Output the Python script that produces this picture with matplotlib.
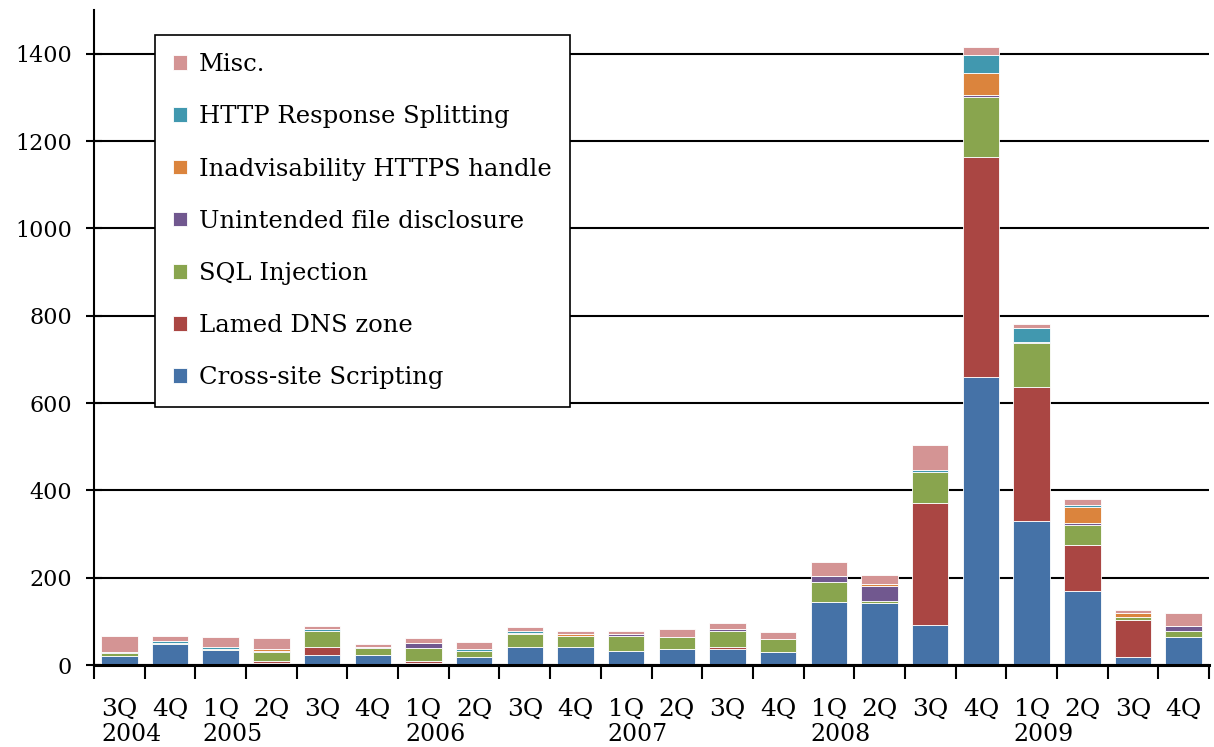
import numpy as np
import matplotlib
matplotlib.use('Agg')
import matplotlib.pyplot as plt
from matplotlib.ticker import FixedLocator

plt.rcParams['font.family'] = ['DejaVu Serif']

# 분기 라벨
quarters = ['3Q', '4Q', '1Q', '2Q', '3Q', '4Q', '1Q', '2Q', '3Q', '4Q', '1Q',
            '2Q', '3Q', '4Q', '1Q', '2Q', '3Q', '4Q', '1Q', '2Q', '3Q', '4Q']
years = ['2004', '', '2005', '', '', '', '2006', '', '', '', '2007',
         '', '', '', '2008', '', '', '', '2009', '', '', '']

# 항목별 건수
xss = [20, 47, 34, 5, 24, 24, 5, 19, 42, 42, 33, 37, 37, 29, 145, 141, 91, 660, 329, 169, 19, 64]
dns = [0, 0, 0, 5, 18, 0, 5, 0, 0, 0, 0, 0, 4, 0, 0, 0, 279, 503, 307, 106, 85, 0]
sql = [7, 4, 2, 19, 37, 14, 28, 14, 28, 24, 33, 27, 38, 31, 46, 5, 73, 138, 102, 46, 5, 14]
unintended = [3, 0, 0, 4, 0, 4, 13, 0, 0, 0, 4, 0, 4, 0, 12, 36, 0, 5, 2, 5, 0, 12]
https = [0, 0, 0, 4, 0, 0, 0, 0, 4, 4, 0, 0, 0, 0, 0, 4, 0, 50, 0, 35, 9, 0]
http_split = [0, 5, 5, 0, 4, 0, 0, 4, 5, 0, 0, 0, 0, 0, 0, 0, 4, 42, 31, 5, 0, 0]
misc = [36, 10, 24, 24, 6, 6, 10, 15, 9, 9, 9, 19, 14, 15, 34, 21, 56, 17, 9, 14, 9, 28]

names = ['Cross-site Scripting', 'Lamed DNS zone', 'SQL Injection',
         'Unintended file disclosure', 'Inadvisability HTTPS handle',
         'HTTP Response Splitting', 'Misc.']
series = [xss, dns, sql, unintended, https, http_split, misc]
colors = ['#4572A7', '#AA4643', '#89A54E', '#71588F', '#DB843D', '#4198AF', '#D49494']

fig = plt.figure(figsize=(12.14, 7.47), dpi=100)
ax = fig.add_axes([94 / 1214, 82 / 747, 1115 / 1214, 655 / 747])

x = np.arange(len(quarters))
bottom = np.zeros(len(quarters))
for vals, name, c in zip(series, names, colors):
    ax.bar(x, vals, width=0.72, bottom=bottom, color=c, edgecolor='white',
           linewidth=0.6, label=name, zorder=3)
    bottom += np.array(vals)

ax.set_xlim(-0.5, len(quarters) - 0.5)
ax.set_ylim(0, 1500)
ax.set_yticks(range(0, 1401, 200))
ax.yaxis.grid(True, color='black', linewidth=1.5, zorder=0)
ax.set_axisbelow(True)

# 분기는 눈금 라벨, 연도는 그 아래에 따로
ax.set_xticks(x)
ax.set_xticklabels(quarters, fontsize=18)
ax.tick_params(axis='x', which='major', length=0, pad=24)
ax.xaxis.set_minor_locator(FixedLocator(np.arange(-0.5, len(quarters), 1.0)))
ax.tick_params(axis='x', which='minor', length=10, width=1.5, direction='out')
for xi, yr in zip(x, years):
    if yr:
        ax.text(xi - 0.36, -0.106, yr, transform=ax.get_xaxis_transform(),
                ha='left', va='center', fontsize=17)

ax.tick_params(axis='y', direction='inout', length=12, width=1.5, labelsize=16, pad=10)

for s in ['top', 'right']:
    ax.spines[s].set_visible(False)
ax.spines['left'].set_linewidth(1.5)
ax.spines['bottom'].set_linewidth(2.2)
ax.spines['bottom'].set_zorder(4)

handles, labs = ax.get_legend_handles_labels()
leg = ax.legend(handles[::-1], labs[::-1], loc='upper left',
                bbox_to_anchor=(155 / 1214, 1 - 35 / 747), bbox_transform=fig.transFigure,
                fontsize=17.5, frameon=True, fancybox=False, edgecolor='black', framealpha=1,
                handlelength=0.55, handleheight=0.55, handletextpad=0.5,
                labelspacing=1.2, borderpad=0.75, borderaxespad=0)
leg.get_frame().set_linewidth(1.2)
leg.set_zorder(5)

fig.savefig('out.png', dpi=100)
